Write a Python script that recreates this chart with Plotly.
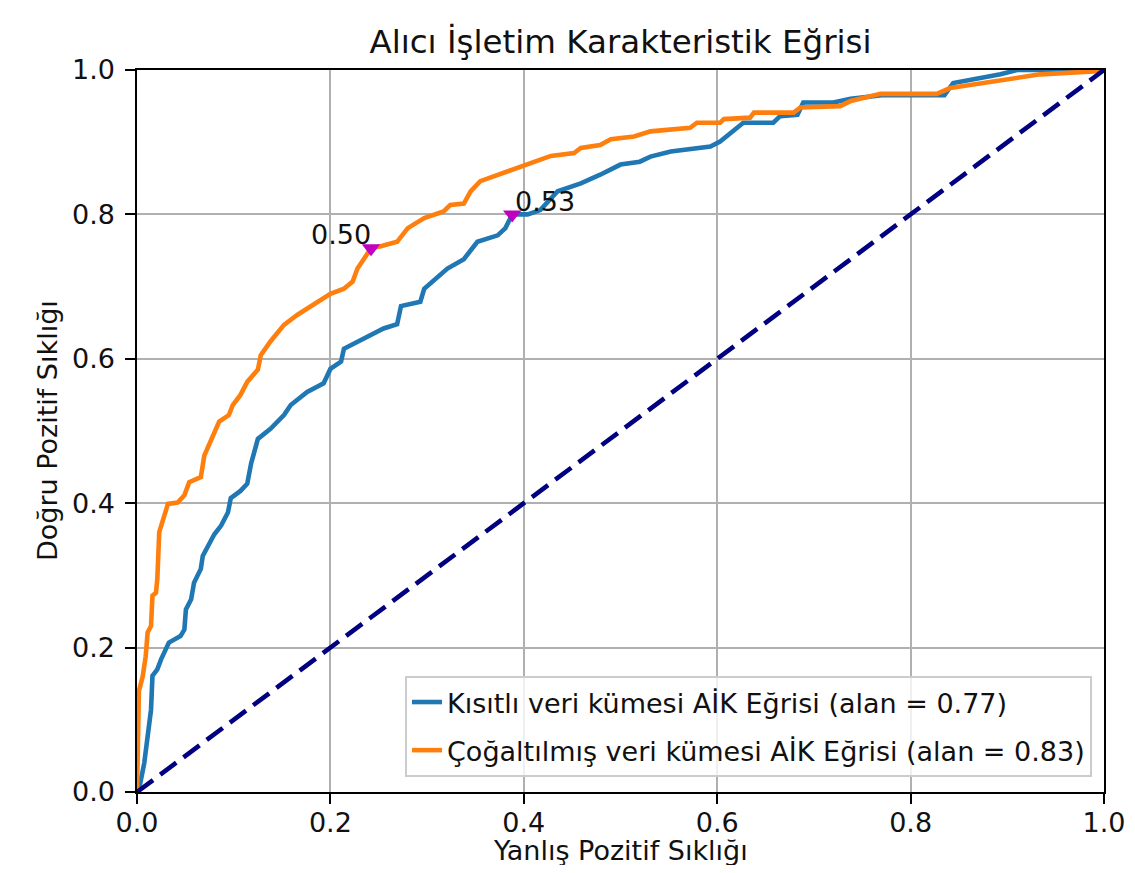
import plotly.graph_objects as go

# ---- data ----
fpr_kisitli = [0, 0.002, 0.0075, 0.011, 0.0145, 0.016, 0.021, 0.025, 0.03, 0.033,
               0.045, 0.049, 0.0506, 0.056, 0.059, 0.066, 0.068, 0.076, 0.08, 0.087,
               0.094, 0.097, 0.107, 0.114, 0.118, 0.125, 0.138, 0.152, 0.159, 0.176,
               0.193, 0.2, 0.211, 0.214, 0.228, 0.242, 0.255, 0.269, 0.273, 0.293,
               0.297, 0.321, 0.338, 0.352, 0.373, 0.381, 0.388, 0.404, 0.417, 0.435,
               0.459, 0.479, 0.5, 0.52, 0.531, 0.552, 0.576, 0.593, 0.603, 0.61,
               0.62, 0.627, 0.658, 0.665, 0.683, 0.689, 0.72, 0.738, 0.77, 0.835,
               0.844, 0.893, 0.91, 1.0]
tpr_kisitli = [0, 0.003, 0.04, 0.082, 0.114, 0.161, 0.17, 0.184, 0.198, 0.207,
               0.216, 0.225, 0.253, 0.267, 0.29, 0.309, 0.327, 0.346, 0.357, 0.369,
               0.387, 0.407, 0.417, 0.427, 0.455, 0.489, 0.503, 0.522, 0.536, 0.554,
               0.566, 0.586, 0.596, 0.614, 0.624, 0.633, 0.642, 0.648, 0.673, 0.679,
               0.697, 0.725, 0.738, 0.762, 0.771, 0.781, 0.80, 0.80, 0.806, 0.832,
               0.843, 0.855, 0.869, 0.873, 0.88, 0.887, 0.892, 0.894, 0.901, 0.908,
               0.92, 0.927, 0.927, 0.936, 0.938, 0.955, 0.955, 0.96, 0.965, 0.965,
               0.982, 0.994, 1.0, 1.0]

fpr_cogaltilmis = [0, 0.002, 0.004, 0.006, 0.009, 0.011, 0.0145, 0.016, 0.0196, 0.021,
                   0.023, 0.026, 0.03, 0.032, 0.042, 0.049, 0.054, 0.066, 0.0696, 0.076,
                   0.085, 0.095, 0.099, 0.107, 0.114, 0.125, 0.128, 0.138, 0.152, 0.166,
                   0.183, 0.2, 0.214, 0.223, 0.228, 0.242, 0.252, 0.269, 0.28, 0.297,
                   0.317, 0.324, 0.338, 0.345, 0.355, 0.373, 0.39, 0.407, 0.428, 0.452,
                   0.459, 0.479, 0.49, 0.514, 0.531, 0.572, 0.579, 0.603, 0.607, 0.634,
                   0.638, 0.679, 0.686, 0.727, 0.738, 0.769, 0.827, 0.841, 0.865, 0.893,
                   0.934, 0.989, 1.0]
tpr_cogaltilmis = [0, 0.14, 0.15, 0.161, 0.188, 0.221, 0.23, 0.272, 0.276, 0.295,
                   0.36, 0.374, 0.392, 0.399, 0.401, 0.411, 0.429, 0.436, 0.466, 0.485,
                   0.513, 0.522, 0.536, 0.55, 0.568, 0.585, 0.605, 0.624, 0.647, 0.661,
                   0.675, 0.69, 0.697, 0.707, 0.725, 0.753, 0.756, 0.762, 0.781, 0.795,
                   0.804, 0.813, 0.815, 0.832, 0.846, 0.855, 0.862, 0.872, 0.881, 0.885,
                   0.892, 0.896, 0.904, 0.908, 0.915, 0.92, 0.927, 0.927, 0.932, 0.934,
                   0.941, 0.941, 0.948, 0.95, 0.957, 0.967, 0.967, 0.975, 0.98, 0.987,
                   0.994, 0.998, 1.0]

# threshold markers
esik_fpr = [0.388, 0.242]
esik_tpr = [0.80, 0.753]
esik_etiket = ["0.53", "0.50"]

legend_names = ["Kısıtlı veri kümesi AİK Eğrisi (alan = 0.77)",
                "Çoğaltılmış veri kümesi AİK Eğrisi (alan = 0.83)"]
tick_vals = [0.0, 0.2, 0.4, 0.6, 0.8, 1.0]
tick_text = ["0.0", "0.2", "0.4", "0.6", "0.8", "1.0"]

FONT = "DejaVu Sans"
FS = 27
TXT = "#111111"
W, H = 1119, 857
ML, MT, MR, MB = 129, 62, 23, 73

fig = go.Figure()
fig.add_trace(go.Scatter(x=fpr_kisitli, y=tpr_kisitli, mode="lines",
                         line=dict(color="#1f77b4", width=4.6),
                         name=legend_names[0], legendgroup="a"))
fig.add_trace(go.Scatter(x=fpr_cogaltilmis, y=tpr_cogaltilmis, mode="lines",
                         line=dict(color="#ff7f0e", width=4.6),
                         name=legend_names[1], legendgroup="b"))
fig.add_trace(go.Scatter(x=[0, 1], y=[0, 1], mode="lines",
                         line=dict(color="#000080", width=4.6, dash="20px,9px"),
                         showlegend=False))
fig.add_trace(go.Scatter(x=esik_fpr, y=esik_tpr, mode="markers",
                         marker=dict(symbol="triangle-down", size=16, color="#bf00bf",
                                     line=dict(width=0)),
                         showlegend=False))

# threshold labels
fig.add_annotation(x=esik_fpr[0], y=esik_tpr[0], text=esik_etiket[0], showarrow=False,
                   xanchor="left", yanchor="middle", xshift=1, yshift=13,
                   font=dict(family=FONT, size=FS, color=TXT))
fig.add_annotation(x=esik_fpr[1], y=esik_tpr[1], text=esik_etiket[1], showarrow=False,
                   xanchor="right", yanchor="middle", xshift=2, yshift=14,
                   font=dict(family=FONT, size=FS, color=TXT))

# axis titles
fig.add_annotation(xref="paper", yref="paper", x=0.5, y=-0.0817, text="Yanlış Pozitif Sıklığı",
                   showarrow=False, xanchor="center", yanchor="middle",
                   font=dict(family=FONT, size=FS, color=TXT))
fig.add_annotation(xref="paper", yref="paper", x=-0.093, y=0.5, text="Doğru Pozitif Sıklığı",
                   showarrow=False, xanchor="center", yanchor="middle", textangle=-90,
                   font=dict(family=FONT, size=FS, color=TXT))

axis_common = dict(range=[0, 1], tickvals=tick_vals, ticktext=tick_text,
                   showgrid=True, gridcolor="#b0b0b0", gridwidth=2,
                   showline=True, linecolor="#000000", linewidth=2.2, mirror=True,
                   ticks="outside", ticklen=9.5, tickwidth=2.2, tickcolor="#000000",
                   automargin=False,
                   zeroline=False, tickfont=dict(family=FONT, size=FS, color=TXT))

fig.update_layout(
    width=W, height=H,
    paper_bgcolor="white", plot_bgcolor="white",
    margin=dict(l=ML, r=MR, t=MT, b=MB, autoexpand=False),
    title=dict(text="Alıcı İşletim Karakteristik Eğrisi", x=(ML + (W - ML - MR) / 2) / W,
               xanchor="center", y=1 - 34 / H, yanchor="middle", yref="container",
               font=dict(family=FONT, size=32.5, color=TXT)),
    xaxis=dict(**axis_common, ticklabelstandoff=-4),
    yaxis=dict(**axis_common, ticklabelstandoff=5),
    showlegend=True,
    legend=dict(x=0.9876, y=0.0208, xanchor="right", yanchor="bottom",
                bgcolor="rgba(255,255,255,0.8)", bordercolor="#cccccc", borderwidth=2,
                font=dict(family=FONT, size=FS, color=TXT),
                traceorder="grouped", tracegroupgap=10),
)

fig.write_html("out.html")
